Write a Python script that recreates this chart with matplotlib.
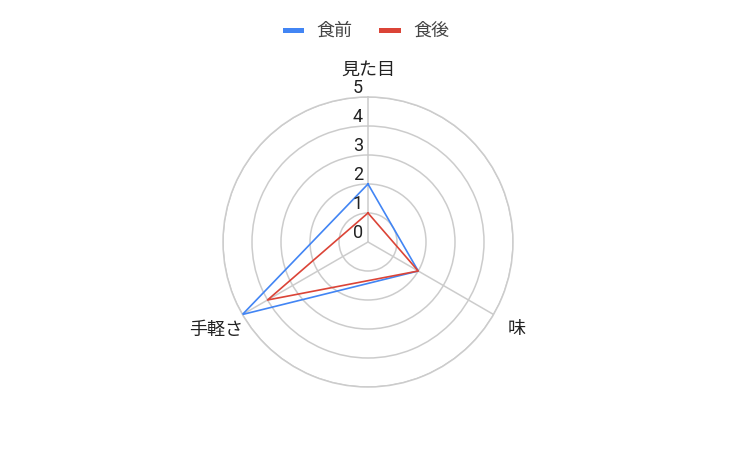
import numpy as np
import matplotlib
matplotlib.use("Agg")
import matplotlib.pyplot as plt
from matplotlib.lines import Line2D

plt.rcParams['font.family'] = ['Roboto', 'Noto Sans CJK JP', 'DejaVu Sans']

# data
categories = ['見た目', '味', '手軽さ']
before = [2, 2, 5]   # 食前
after = [1, 2, 4]    # 食後
series_names = ['食前', '食後']
r_ticks = [0, 1, 2, 3, 4, 5]

blue = '#4285f4'
red = '#db4437'
grid_c = '#cccccc'
text_c = '#222222'

W, H = 735, 453
fig = plt.figure(figsize=(W / 100, H / 100), dpi=100)
cx, cy, R = 368, 242, 145
ax = fig.add_axes([(cx - R) / W, (H - cy - R) / H, 2 * R / W, 2 * R / H], projection='polar')
ax.set_theta_offset(np.pi / 2)
ax.set_theta_direction(-1)
ax.set_ylim(0, 5)

angles = np.linspace(0, 2 * np.pi, len(categories), endpoint=False)
ax.set_xticks(angles)
ax.set_xticklabels([])
ax.set_yticks(r_ticks[1:])
ax.set_yticklabels([])
ax.grid(True, color=grid_c, lw=1.1)
ax.spines['polar'].set_color(grid_c)
ax.spines['polar'].set_linewidth(1.1)
ax.tick_params(length=0)

for vals, col in [(before, blue), (after, red)]:
    a = np.append(angles, angles[0])
    v = np.append(vals, vals[0])
    ax.plot(a, v, color=col, lw=1.2, zorder=3)

px = 0.72  # pixels -> points

# radial tick labels
for r in r_ticks:
    ax.annotate(str(r), (0, r), xytext=(-5 * px, 0), textcoords='offset points',
                ha='right', va='bottom', fontsize=13, color=text_c)

# category labels
offsets = [((0, 18), 'center', 'bottom'), ((14, -15), 'left', 'center'), ((1, -15), 'right', 'center')]
for ang, lab, (off, ha, va) in zip(angles, categories, offsets):
    ax.annotate(lab, (ang, 5), xytext=(off[0] * px, off[1] * px), textcoords='offset points',
                ha=ha, va=va, fontsize=13, color=text_c)

handles = [Line2D([], [], color=blue, lw=3.6), Line2D([], [], color=red, lw=3.6)]
fig.legend(handles, series_names, loc='center', bbox_to_anchor=(367 / W, 1 - 31 / H),
           ncol=2, frameon=False, fontsize=13, handlelength=0.9, handletextpad=0.85,
           columnspacing=1.6, labelcolor='#444444')

fig.savefig('out.png', dpi=100)
